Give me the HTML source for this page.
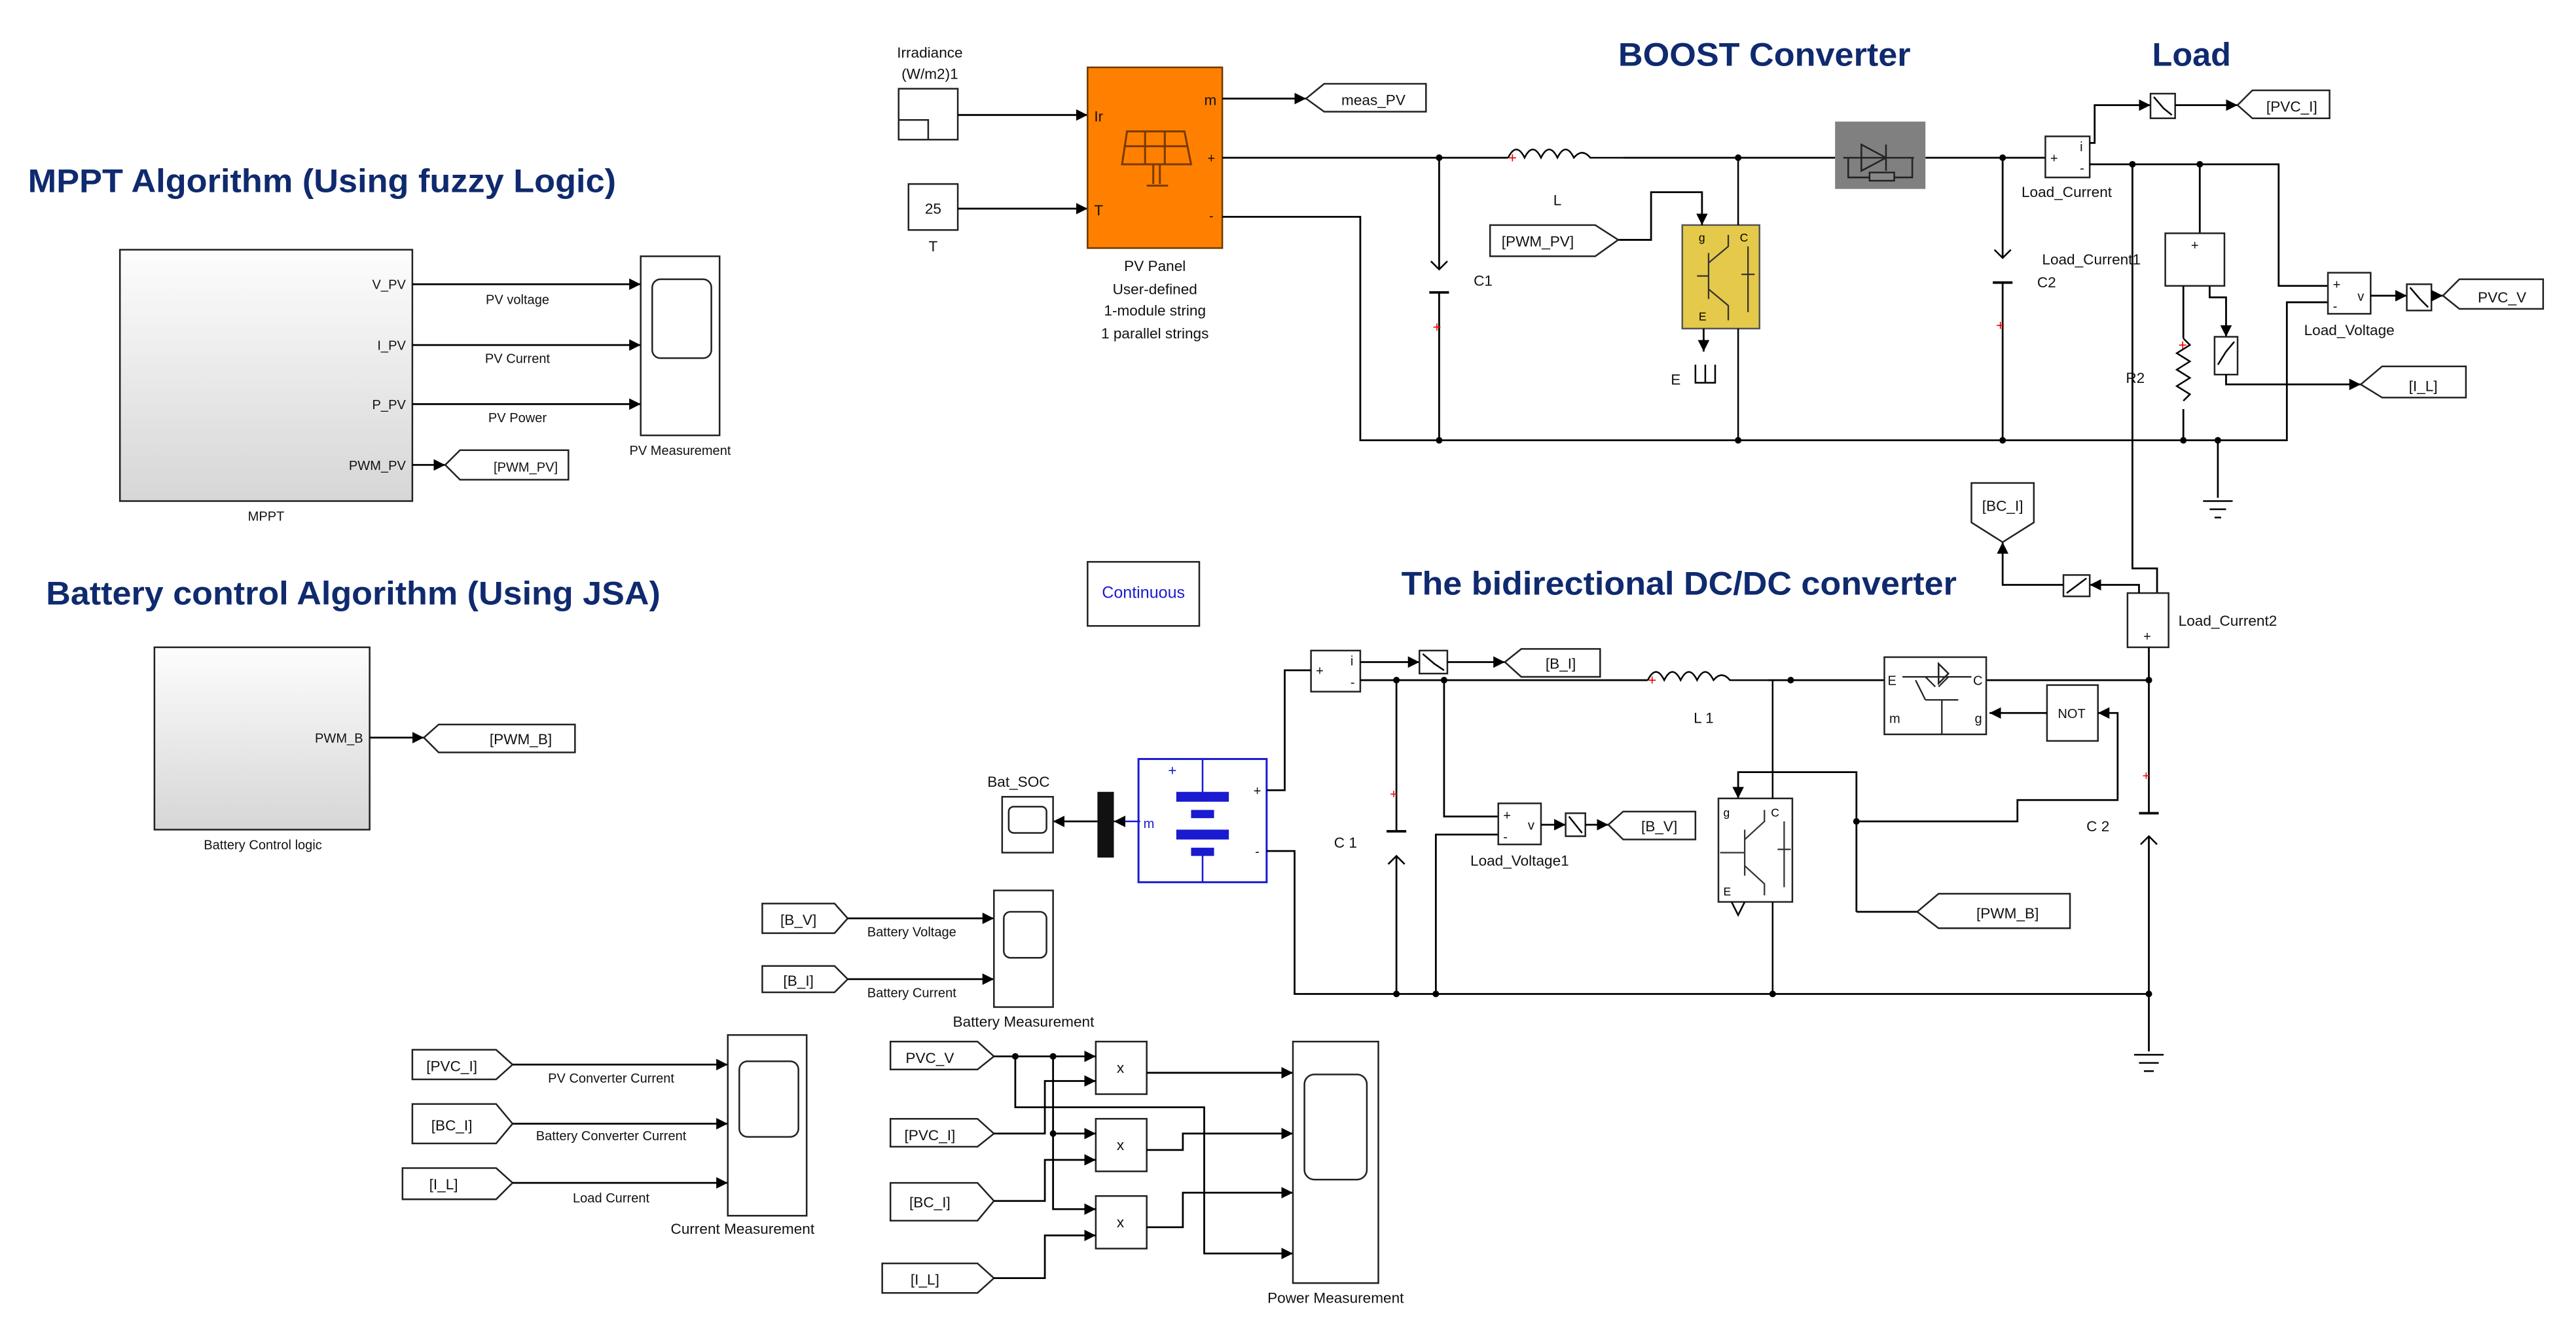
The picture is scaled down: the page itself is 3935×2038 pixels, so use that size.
<!DOCTYPE html>
<html><head><meta charset="utf-8"><style>
html,body{margin:0;padding:0;background:#fff;}
svg{display:block;}
text{font-family:"Liberation Sans",sans-serif;}
.t{font-size:9px;fill:#111;}
.s{font-size:8px;fill:#111;}
.h{font-size:20px;font-weight:bold;fill:#0f2a6e;}
.w{stroke:#000;stroke-width:1.1;fill:none;}
.b{fill:#fff;stroke:#222;stroke-width:1;}
.n{fill:#000;}
</style></head><body>
<svg width="3935" height="2038" viewBox="0 0 1568 812" preserveAspectRatio="none" xmlns="http://www.w3.org/2000/svg">
<defs>
<marker id="a" markerWidth="7" markerHeight="7" refX="7" refY="3.5" orient="auto" markerUnits="userSpaceOnUse"><path d="M0,0 L7,3.5 L0,7 z" fill="#000"/></marker>
<linearGradient id="g" x1="0" y1="0" x2="0" y2="1"><stop offset="0" stop-color="#fdfdfd"/><stop offset="1" stop-color="#d6d6d6"/></linearGradient>
</defs>

<!-- Titles -->
<text class="h" x="17" y="117" textLength="358" lengthAdjust="spacingAndGlyphs">MPPT Algorithm (Using fuzzy Logic)</text>
<text class="h" x="28" y="368" textLength="374" lengthAdjust="spacingAndGlyphs">Battery control Algorithm (Using JSA)</text>
<text class="h" x="985" y="40" textLength="178" lengthAdjust="spacingAndGlyphs">BOOST Converter</text>
<text class="h" x="1310" y="40" textLength="48" lengthAdjust="spacingAndGlyphs">Load</text>
<text class="h" x="853" y="362" textLength="338" lengthAdjust="spacingAndGlyphs">The bidirectional DC/DC converter</text>

<!-- MPPT -->
<rect x="73" y="152" width="178" height="153" fill="url(#g)" stroke="#222"/>
<text class="s" x="247" y="176" text-anchor="end">V_PV</text>
<text class="s" x="247" y="213" text-anchor="end">I_PV</text>
<text class="s" x="247" y="249" text-anchor="end">P_PV</text>
<text class="s" x="247" y="286" text-anchor="end">PWM_PV</text>
<text class="s" x="162" y="317" text-anchor="middle">MPPT</text>
<path class="w" d="M251,173H390" marker-end="url(#a)"/><path class="w" d="M251,210H390" marker-end="url(#a)"/><path class="w" d="M251,246H390" marker-end="url(#a)"/>
<text class="s" x="315" y="185" text-anchor="middle">PV voltage</text>
<text class="s" x="315" y="221" text-anchor="middle">PV Current</text>
<text class="s" x="315" y="257" text-anchor="middle">PV Power</text>
<rect class="b" x="390" y="156" width="48" height="109"/>
<rect class="b" x="397" y="170" width="36" height="48" rx="5" stroke-width="1.3"/>
<text class="s" x="414" y="277" text-anchor="middle">PV Measurement</text>
<path class="w" d="M251,283H271" marker-end="url(#a)"/>
<path class="b" d="M271,283L280,274H346V292H280Z"/>
<text class="s" x="320" y="287" text-anchor="middle">[PWM_PV]</text>

<!-- Battery control -->
<rect x="94" y="394" width="131" height="111" fill="url(#g)" stroke="#222"/>
<text class="s" x="221" y="452" text-anchor="end">PWM_B</text>
<text class="s" x="160" y="517" text-anchor="middle">Battery Control logic</text>
<path class="w" d="M225,449H258" marker-end="url(#a)"/>
<path class="b" d="M258,449L267,441H350V458H267Z"/>
<text class="t" x="317" y="453" text-anchor="middle">[PWM_B]</text>

<!-- Continuous -->
<rect class="b" x="662" y="342" width="68" height="39"/>
<text x="696" y="364" font-size="10" fill="#1a1ad0" text-anchor="middle">Continuous</text>

<!-- Irradiance / T -->
<text class="t" x="566" y="35" text-anchor="middle">Irradiance</text>
<text class="t" x="566" y="48" text-anchor="middle">(W/m2)1</text>
<rect class="b" x="547" y="54" width="36" height="31"/>
<path d="M547,73H565V85" stroke="#222" fill="none"/>
<rect class="b" x="553" y="112" width="30" height="28"/>
<text class="t" x="568" y="130" text-anchor="middle">25</text>
<text class="t" x="568" y="153" text-anchor="middle">T</text>
<path class="w" d="M583,70H662" marker-end="url(#a)"/>
<path class="w" d="M583,127H662" marker-end="url(#a)"/>

<!-- PV panel -->
<rect x="662" y="41" width="82" height="110" fill="#ff8000" stroke="#6a3a00"/>
<text class="t" x="666" y="74">Ir</text>
<text class="t" x="666" y="131">T</text>
<text class="t" x="733" y="64">m</text>
<text class="s" x="735" y="99" fill="#8a4000">+</text>
<text class="s" x="736" y="134">-</text>
<g stroke="#7a3a00" fill="none" stroke-width="1.2">
<path d="M686,80L683,100H725L721,80Z"/><path d="M697,80V100M709,80V100M684,89H723"/>
<path d="M702,100V112M706,100V112M698,113H711"/>
</g>
<text class="t" x="703" y="165" text-anchor="middle">PV Panel</text>
<text class="t" x="703" y="179" text-anchor="middle" fill="#444">User-defined</text>
<text class="t" x="703" y="192" text-anchor="middle" fill="#444">1-module string</text>
<text class="t" x="703" y="206" text-anchor="middle" fill="#444">1 parallel strings</text>
<path class="w" d="M744,60H795" marker-end="url(#a)"/>
<path class="b" d="M795,60L806,51H868V68H806Z"/>
<text class="t" x="836" y="64" text-anchor="middle">meas_PV</text>

<!-- Boost power circuit -->
<path class="w" d="M744,96H918 M988,96H1117 M1172,96H1245"/>
<path class="w" d="M744,132H828V268H1392V184H1417"/>
<path d="M918,96 q5,-10 10,0 q5,-10 10,0 q5,-10 10,0 q5,-10 10,0 q5,-6 10,0H988" stroke="#000" fill="none"/>
<text x="918" y="99" font-size="9" fill="#e00">+</text>
<text class="t" x="948" y="125" text-anchor="middle">L</text>
<!-- C1 -->
<path class="w" d="M876,96V164 M876,178V268"/>
<path d="M871,159 l5,5 l5,-5" stroke="#000" fill="none"/><path d="M870,178H882" stroke="#000" stroke-width="1.5"/>
<text x="872" y="202" font-size="9" fill="#e00">+</text>
<text class="t" x="897" y="174">C1</text>
<!-- IGBT yellow -->
<rect x="1024" y="137" width="47" height="63" fill="#e5c94a" stroke="#555"/>
<path d="M1058,96V137 M1058,200V268" stroke="#000" fill="none"/>
<g stroke="#333" fill="none" stroke-width="0.9"><path d="M1040,154V182M1033,168H1040M1040,160L1052,150V143M1040,176L1052,186V195M1064,150V190M1060,167H1068"/></g>
<text x="1034" y="147" font-size="7">g</text><text x="1059" y="147" font-size="7">C</text><text x="1034" y="195" font-size="7">E</text>
<path class="w" d="M985,146H1005V117H1036V137" marker-end="url(#a)"/>
<path class="b" d="M907,137H971L985,146L971,156H907Z"/>
<text class="t" x="936" y="150" text-anchor="middle">[PWM_PV]</text>
<path class="w" d="M1037,200V214" marker-end="url(#a)"/>
<path d="M1032,222V233H1044V222M1038,222V233" stroke="#000" fill="none"/>
<text class="t" x="1017" y="234">E</text>
<!-- diode block -->
<rect x="1117" y="74" width="55" height="41" fill="#808080"/>
<path d="M1133,88L1148,96L1133,104Z M1148,88V104 M1122,96H1165 M1125,96V108H1164V96" stroke="#222" fill="none"/>
<rect x="1138" y="105" width="15" height="5" fill="#888" stroke="#222"/>
<!-- C2 -->
<path class="w" d="M1219,96V157 M1219,172V268"/>
<path d="M1214,152 l5,5 l5,-5" stroke="#000" fill="none"/><path d="M1213,172H1225" stroke="#000" stroke-width="1.5"/>
<text x="1215" y="201" font-size="9" fill="#e00">+</text>
<text class="t" x="1240" y="175">C2</text>
<!-- Load_Current -->
<rect class="b" x="1245" y="83" width="27" height="25"/>
<text class="s" x="1248" y="99">+</text><text class="s" x="1266" y="92">i</text><text class="s" x="1266" y="105">-</text>
<text class="t" x="1258" y="120" text-anchor="middle">Load_Current</text>
<path class="w" d="M1272,87H1275V64H1309" marker-end="url(#a)"/>
<rect class="b" x="1309" y="57" width="15" height="15"/><path d="M1311,59L1317,66L1322,70" stroke="#000" fill="none"/>
<path class="w" d="M1324,64H1362" marker-end="url(#a)"/>
<path class="b" d="M1362,64L1371,55H1418V72H1371Z"/>
<text class="t" x="1395" y="68" text-anchor="middle">[PVC_I]</text>
<path class="w" d="M1272,100H1387V174H1417"/>
<!-- Load_Voltage -->
<rect class="b" x="1417" y="166" width="26" height="25"/>
<text class="s" x="1420" y="176">+</text><text class="s" x="1420" y="189">-</text><text class="s" x="1435" y="183">v</text>
<text class="t" x="1430" y="204" text-anchor="middle">Load_Voltage</text>
<path class="w" d="M1443,180H1465" marker-end="url(#a)"/>
<rect class="b" x="1465" y="173" width="15" height="16"/><path d="M1467,175L1473,182L1478,187" stroke="#000" fill="none"/>
<path class="w" d="M1480,180H1487" marker-end="url(#a)"/>
<path class="b" d="M1487,180L1497,170H1548V188H1497Z"/>
<text class="t" x="1523" y="184" text-anchor="middle">PVC_V</text>
<!-- Load_Current1 -->
<path class="w" d="M1339,100V142"/>
<rect class="b" x="1318" y="142" width="36" height="32"/>
<text class="s" x="1336" y="152" text-anchor="middle">+</text>
<text class="t" x="1243" y="161">Load_Current1</text>
<path class="w" d="M1329,174V206 M1329,249V268"/>
<path d="M1329,206l4,4l-8,5l8,5l-8,5l8,5l-8,5l8,5l-4,4" stroke="#000" fill="none"/>
<text x="1326" y="213" font-size="9" fill="#e00">+</text>
<text class="t" x="1294" y="233">R2</text>
<path class="w" d="M1345,174V181H1355V205" marker-end="url(#a)"/>
<rect class="b" x="1348" y="205" width="14" height="23"/><path d="M1350,222L1355,214L1360,208" stroke="#000" fill="none"/>
<path class="w" d="M1355,228V234H1437" marker-end="url(#a)"/>
<path class="b" d="M1437,234L1450,223H1501V242H1450Z"/>
<text class="t" x="1475" y="238" text-anchor="middle">[I_L]</text>
<!-- Ground -->
<path class="w" d="M1350,268V303"/>
<path d="M1341,305H1359M1345,310H1355M1348,315H1352" stroke="#000"/>
<!-- Load_Current2 -->
<path class="w" d="M1298,100V346H1313V361"/>
<rect class="b" x="1295" y="361" width="25" height="33"/>
<text class="s" x="1307" y="390" text-anchor="middle">+</text>
<text class="t" x="1326" y="381">Load_Current2</text>
<path class="w" d="M1302,361V356H1272" marker-end="url(#a)"/>
<rect class="b" x="1256" y="350" width="16" height="13"/><path d="M1258,361L1270,352" stroke="#000"/>
<path class="w" d="M1256,356H1219V330" marker-end="url(#a)"/>
<path class="b" d="M1200,294H1238V318L1219,330L1200,318Z"/>
<text class="t" x="1219" y="311" text-anchor="middle">[BC_I]</text>
<!-- Nodes top -->
<g class="n"><circle cx="876" cy="96" r="2"/><circle cx="1058" cy="96" r="2"/><circle cx="1219" cy="96" r="2"/><circle cx="1298" cy="100" r="2"/><circle cx="1339" cy="100" r="2"/><circle cx="876" cy="268" r="2"/><circle cx="1058" cy="268" r="2"/><circle cx="1219" cy="268" r="2"/><circle cx="1329" cy="268" r="2"/><circle cx="1350" cy="268" r="2"/></g>

<!-- Bidirectional -->
<rect class="b" x="798" y="396" width="30" height="25"/>
<text class="s" x="801" y="411">+</text><text class="s" x="822" y="405">i</text><text class="s" x="822" y="418">-</text>
<path class="w" d="M828,403H864" marker-end="url(#a)"/>
<rect class="b" x="864" y="396" width="17" height="14"/><path d="M866,398L873,404L879,408" stroke="#000" fill="none"/>
<path class="w" d="M881,403H916" marker-end="url(#a)"/>
<path class="b" d="M916,403L926,395H974V412H926Z"/>
<text class="t" x="950" y="407" text-anchor="middle">[B_I]</text>
<path class="w" d="M828,414H1003 M1076,414H1147 M1209,414H1308"/>
<path d="M1003,414 q5,-10 10,0 q5,-10 10,0 q5,-10 10,0 q5,-10 10,0 q5,-6 10,0H1076" stroke="#000" fill="none"/>
<text x="1003" y="417" font-size="9" fill="#e00">+</text>
<text class="t" x="1037" y="440" text-anchor="middle">L 1</text>
<!-- upper switch -->
<rect class="b" x="1147" y="400" width="62" height="47"/>
<text class="s" x="1149" y="417">E</text><text class="s" x="1201" y="417">C</text><text class="s" x="1150" y="440">m</text><text class="s" x="1202" y="440">g</text>
<path d="M1158,412H1200 M1178,418L1172,412 M1180,418L1186,412 M1172,426H1192 M1182,426V447 M1172,426L1166,414" stroke="#222" fill="none" stroke-width="0.9"/>
<path d="M1180,404V416 L1186,410Z" stroke="#222" fill="none"/>
<!-- NOT -->
<rect class="b" x="1246" y="417" width="31" height="34"/>
<text class="s" x="1261" y="437" text-anchor="middle">NOT</text>
<path class="w" d="M1246,434H1211" marker-end="url(#a)"/>
<path class="w" d="M1130,555V500H1228V487H1289V434H1277" marker-end="url(#a)"/>
<path class="b" d="M1167,555L1180,544H1260V565H1180Z"/>
<text class="t" x="1222" y="559" text-anchor="middle">[PWM_B]</text>
<path class="w" d="M1167,555H1130"/>
<path class="w" d="M1130,500V470H1058V486" marker-end="url(#a)"/>
<!-- lower IGBT -->
<rect class="b" x="1046" y="486" width="45" height="63"/>
<path d="M1079,414V486 M1079,549V605" stroke="#000" fill="none"/>
<g stroke="#333" fill="none" stroke-width="0.9"><path d="M1062,505V533M1047,519H1062M1062,511L1074,500V493M1062,527L1074,538V545M1086,500V540M1082,517H1090"/></g>
<text x="1049" y="497" font-size="7">g</text><text x="1078" y="497" font-size="7">C</text><text x="1049" y="545" font-size="7">E</text>
<path d="M1054,549l4,8l4,-8" fill="none" stroke="#000"/>
<!-- battery -->
<rect x="693" y="462" width="78" height="75" fill="#fff" stroke="#1a1ad0" stroke-width="1.2"/>
<text x="711" y="472" font-size="9" fill="#1a1ad0">+</text>
<path d="M732,462V488 M732,516V537" stroke="#1a1ad0"/>
<rect x="716" y="482" width="32" height="6" fill="#1a1ad0"/><rect x="725" y="493" width="14" height="5" fill="#1a1ad0"/>
<rect x="716" y="505" width="32" height="6" fill="#1a1ad0"/><rect x="725" y="516" width="14" height="5" fill="#1a1ad0"/>
<text class="s" x="763" y="484">+</text><text class="s" x="764" y="521">-</text>
<text x="696" y="504" font-size="8" fill="#1a1ad0">m</text>
<path class="w" d="M771,481H782V408H798"/>
<path class="w" d="M771,518H788V605H1308"/>
<rect x="668" y="482" width="10" height="40" fill="#111"/>
<path d="M694,500H678" stroke="#1a1ad0" marker-end="url(#a)"/>
<path class="w" d="M668,500H641" marker-end="url(#a)"/>
<rect class="b" x="610" y="485" width="31" height="34"/>
<rect class="b" x="614" y="491" width="23" height="16" rx="3"/>
<text class="t" x="620" y="479" text-anchor="middle">Bat_SOC</text>
<!-- C 1 -->
<path class="w" d="M850,414V506 M850,521V605"/>
<path d="M844,506H856" stroke="#000" stroke-width="1.5"/><path d="M845,526 l5,-5 l5,5" stroke="#000" fill="none"/>
<text x="846" y="486" font-size="8" fill="#e00">+</text>
<text class="t" x="812" y="516">C 1</text>
<!-- Load_Voltage1 -->
<path class="w" d="M879,414V497H912"/>
<path class="w" d="M874,605V508H912"/>
<rect class="b" x="912" y="489" width="26" height="25"/>
<text class="s" x="915" y="499">+</text><text class="s" x="915" y="512">-</text><text class="s" x="930" y="505">v</text>
<text class="t" x="925" y="527" text-anchor="middle">Load_Voltage1</text>
<path class="w" d="M938,502H953" marker-end="url(#a)"/>
<rect class="b" x="953" y="495" width="12" height="14"/><path d="M955,497L963,507" stroke="#000"/>
<path class="w" d="M965,502H979" marker-end="url(#a)"/>
<path class="b" d="M979,502L988,494H1032V511H988Z"/>
<text class="t" x="1010" y="506" text-anchor="middle">[B_V]</text>
<!-- C 2 -->
<path class="w" d="M1308,394V495 M1308,509V640"/>
<path d="M1302,495H1314" stroke="#000" stroke-width="1.5"/><path d="M1303,514 l5,-5 l5,5" stroke="#000" fill="none"/>
<text x="1304" y="475" font-size="8" fill="#e00">+</text>
<text class="t" x="1270" y="506">C 2</text>
<path d="M1299,642H1317M1302,647H1314M1305,652H1311" stroke="#000"/>
<g class="n"><circle cx="850" cy="414" r="2"/><circle cx="879" cy="414" r="2"/><circle cx="1090" cy="414" r="2"/><circle cx="1308" cy="414" r="2"/><circle cx="850" cy="605" r="2"/><circle cx="874" cy="605" r="2"/><circle cx="1079" cy="605" r="2"/><circle cx="1308" cy="605" r="2"/><circle cx="1130" cy="500" r="2"/></g>

<!-- Battery measurement -->
<path class="b" d="M464,550H508L516,559L508,568H464Z"/><text class="t" x="486" y="563" text-anchor="middle">[B_V]</text>
<path class="b" d="M464,588H508L516,596L508,604H464Z"/><text class="t" x="486" y="600" text-anchor="middle">[B_I]</text>
<path class="w" d="M516,559H605" marker-end="url(#a)"/><path class="w" d="M516,596H605" marker-end="url(#a)"/>
<text class="s" x="555" y="570" text-anchor="middle">Battery Voltage</text>
<text class="s" x="555" y="607" text-anchor="middle">Battery Current</text>
<rect class="b" x="605" y="542" width="36" height="71"/>
<rect class="b" x="611" y="555" width="26" height="28" rx="4"/>
<text class="t" x="623" y="625" text-anchor="middle">Battery Measurement</text>

<!-- Current measurement -->
<path class="b" d="M251,639H302L312,648L302,657H251Z"/><text class="t" x="275" y="652" text-anchor="middle">[PVC_I]</text>
<path class="b" d="M251,672H302L312,684L302,696H251Z"/><text class="t" x="275" y="688" text-anchor="middle">[BC_I]</text>
<path class="b" d="M245,711H302L312,720L302,730H245Z"/><text class="t" x="270" y="724" text-anchor="middle">[I_L]</text>
<path class="w" d="M312,648H443" marker-end="url(#a)"/><path class="w" d="M312,684H443" marker-end="url(#a)"/><path class="w" d="M312,720H443" marker-end="url(#a)"/>
<text class="s" x="372" y="659" text-anchor="middle">PV Converter Current</text>
<text class="s" x="372" y="694" text-anchor="middle">Battery Converter Current</text>
<text class="s" x="372" y="732" text-anchor="middle">Load Current</text>
<rect class="b" x="443" y="630" width="48" height="110"/>
<rect class="b" x="450" y="646" width="36" height="46" rx="5" stroke-width="1.3"/>
<text class="t" x="452" y="751" text-anchor="middle">Current Measurement</text>

<!-- Power measurement -->
<path class="b" d="M542,634H595L605,643L595,651H542Z"/><text class="t" x="566" y="647" text-anchor="middle">PVC_V</text>
<path class="b" d="M542,681H595L605,690L595,698H542Z"/><text class="t" x="566" y="694" text-anchor="middle">[PVC_I]</text>
<path class="b" d="M542,720H595L605,731L595,743H542Z"/><text class="t" x="566" y="735" text-anchor="middle">[BC_I]</text>
<path class="b" d="M537,769H595L605,778L595,787H537Z"/><text class="t" x="563" y="782" text-anchor="middle">[I_L]</text>
<rect class="b" x="667" y="634" width="31" height="32"/><text class="t" x="682" y="653" text-anchor="middle">x</text>
<rect class="b" x="667" y="681" width="31" height="32"/><text class="t" x="682" y="700" text-anchor="middle">x</text>
<rect class="b" x="667" y="728" width="31" height="32"/><text class="t" x="682" y="747" text-anchor="middle">x</text>
<path class="w" d="M605,643H667" marker-end="url(#a)"/>
<path class="w" d="M618,643V674H733V763H787" marker-end="url(#a)"/>
<path class="w" d="M641,643V736H667" marker-end="url(#a)"/>
<path class="w" d="M641,690H667" marker-end="url(#a)"/>
<path class="w" d="M605,690H636V658H667" marker-end="url(#a)"/>
<path class="w" d="M605,731H636V706H667" marker-end="url(#a)"/>
<path class="w" d="M605,778H636V752H667" marker-end="url(#a)"/>
<path class="w" d="M698,653H787" marker-end="url(#a)"/>
<path class="w" d="M698,700H720V690H787" marker-end="url(#a)"/>
<path class="w" d="M698,747H720V726H787" marker-end="url(#a)"/>
<g class="n"><circle cx="618" cy="643" r="2"/><circle cx="641" cy="643" r="2"/><circle cx="641" cy="690" r="2"/></g>
<rect class="b" x="787" y="634" width="52" height="147"/>
<rect class="b" x="794" y="654" width="38" height="64" rx="6" stroke-width="1.3"/>
<text class="t" x="813" y="793" text-anchor="middle">Power Measurement</text>
</svg>
</body></html>
